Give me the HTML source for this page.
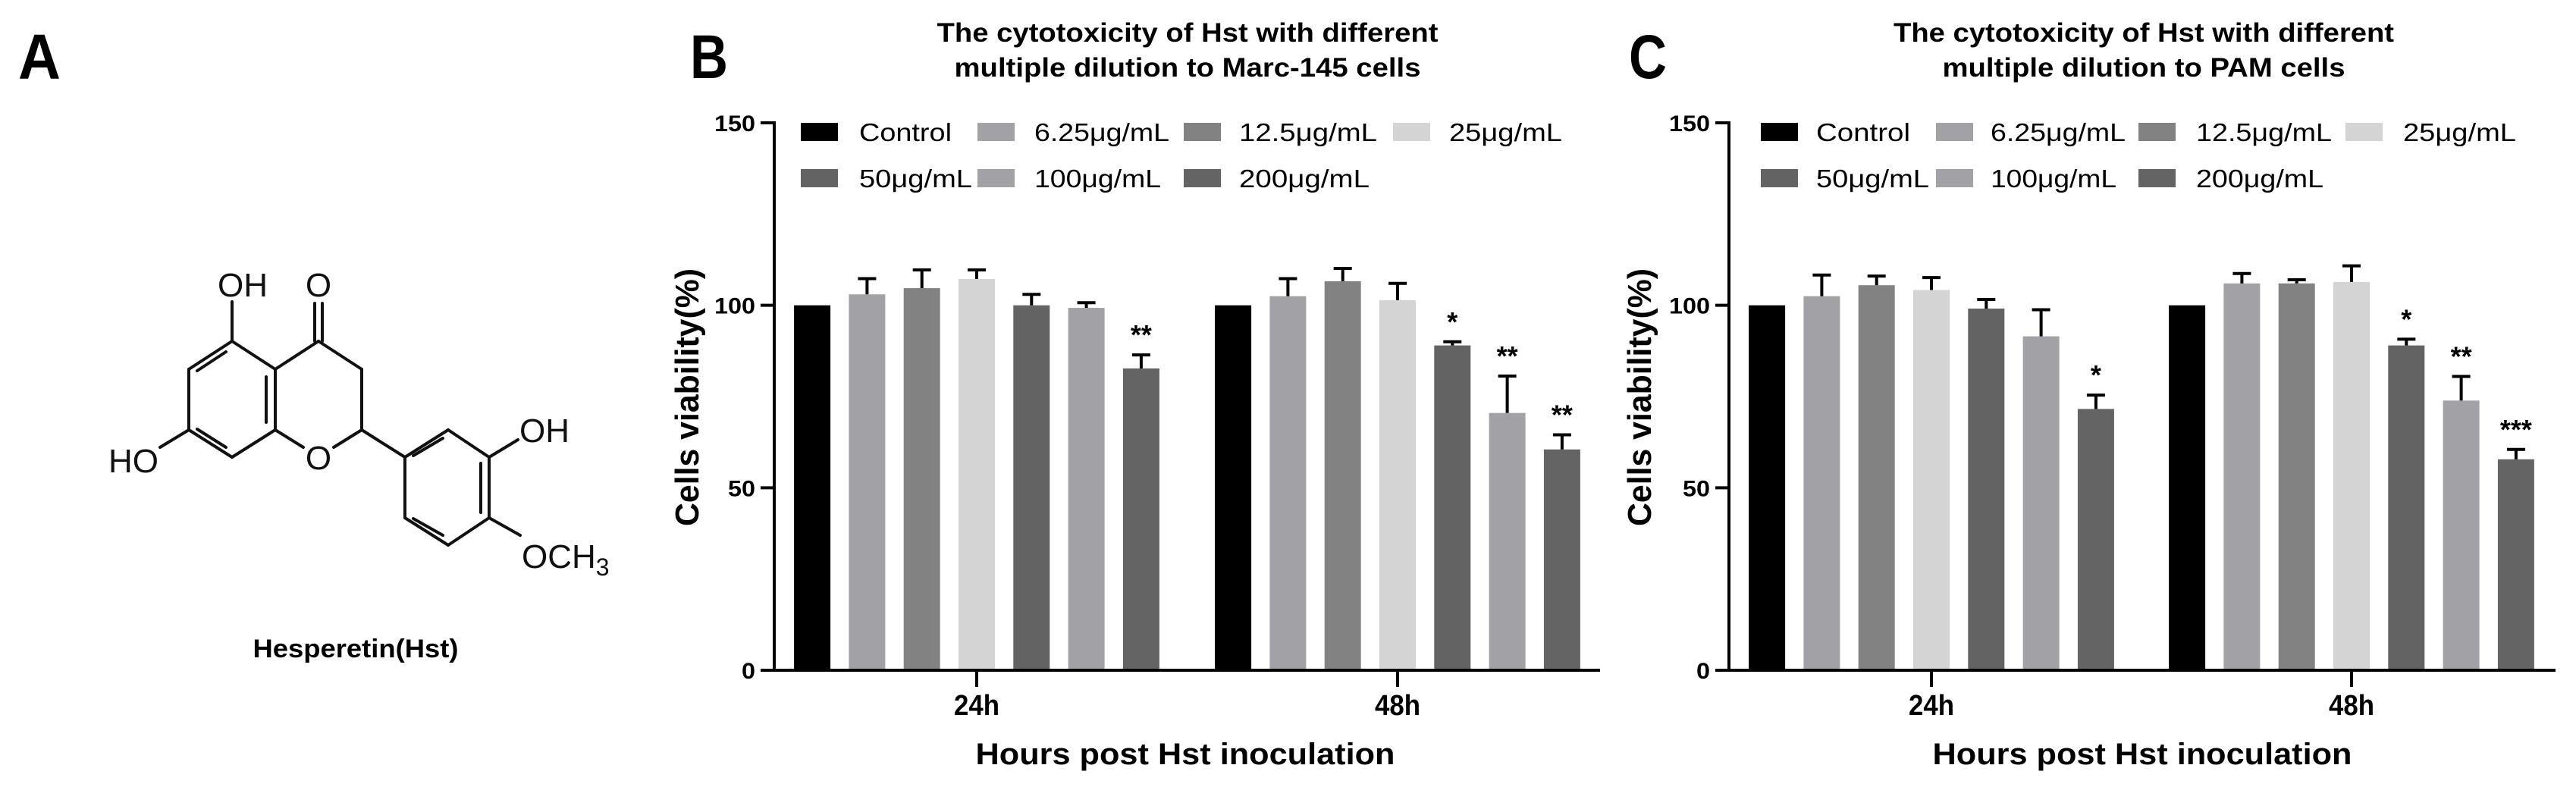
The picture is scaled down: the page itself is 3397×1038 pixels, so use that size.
<!DOCTYPE html>
<html><head><meta charset="utf-8"><style>
html,body{margin:0;padding:0;background:#fff}
svg{display:block}
text{font-family:"Liberation Sans",Arial,sans-serif}
</style></head><body>
<svg id="fig" width="3397" height="1038" viewBox="0 0 3397 1038" xmlns="http://www.w3.org/2000/svg">
<rect width="3397" height="1038" fill="#fff"/>
<!-- Panel A -->
<g id="panelA">
<text x="24" y="104" font-size="84" font-weight="bold" textLength="56" lengthAdjust="spacingAndGlyphs">A</text>
<g stroke="#111" stroke-width="4" fill="none" stroke-linecap="round">
<line x1="306" y1="450" x2="249" y2="487"/>
<line x1="249" y1="487" x2="249" y2="567"/>
<line x1="249" y1="567" x2="306" y2="603"/>
<line x1="306" y1="603" x2="363" y2="567"/>
<line x1="363" y1="567" x2="363" y2="487"/>
<line x1="363" y1="487" x2="306" y2="450"/>
<line x1="298" y1="464" x2="260" y2="489"/>
<line x1="260" y1="566" x2="298" y2="590"/>
<line x1="351" y1="497" x2="351" y2="557"/>
<line x1="306" y1="450" x2="306" y2="398"/>
<line x1="363" y1="487" x2="420" y2="450"/>
<line x1="415" y1="450" x2="415" y2="400"/>
<line x1="425" y1="450" x2="425" y2="400"/>
<line x1="420" y1="450" x2="477" y2="487"/>
<line x1="477" y1="487" x2="477" y2="567"/>
<line x1="477" y1="567" x2="440" y2="590"/>
<line x1="400" y1="590" x2="363" y2="567"/>
<line x1="249" y1="567" x2="211" y2="590"/>
<line x1="477" y1="567" x2="534" y2="603"/>
<line x1="534" y1="603" x2="591" y2="567"/>
<line x1="591" y1="567" x2="645" y2="603"/>
<line x1="645" y1="603" x2="645" y2="683"/>
<line x1="645" y1="683" x2="591" y2="719"/>
<line x1="591" y1="719" x2="534" y2="683"/>
<line x1="534" y1="683" x2="534" y2="603"/>
<line x1="545" y1="601" x2="584" y2="578"/>
<line x1="634" y1="611" x2="634" y2="676"/>
<line x1="584" y1="706" x2="545" y2="684"/>
<line x1="645" y1="603" x2="683" y2="580"/>
<line x1="645" y1="683" x2="686" y2="706"/>
</g>
<g font-size="44" fill="#111">
<text x="320" y="391" text-anchor="middle">OH</text>
<text x="420" y="391" text-anchor="middle">O</text>
<text x="420" y="619" text-anchor="middle">O</text>
<text x="176" y="623" text-anchor="middle">HO</text>
<text x="718" y="583" text-anchor="middle">OH</text>
<text x="688" y="749">OCH<tspan font-size="32" dy="10">3</tspan></text>
</g>
<text x="469" y="867" font-size="34" font-weight="bold" text-anchor="middle" textLength="271" lengthAdjust="spacingAndGlyphs">Hesperetin(Hst)</text>
</g>
<g id="panelB"></g>
<g id="panelC"></g>
</svg>
<script>
const groups = ['24h', '48h'];
const seriesNames = ['Control', '6.25μg/mL', '12.5μg/mL', '25μg/mL', '50μg/mL', '100μg/mL', '200μg/mL'];
const yTicks = [0, 50, 100, 150];
const marcValues24 = [100, 103.0, 104.7, 107.2, 100, 99.3, 82.7];
const marcValues48 = [100, 102.5, 106.6, 101.4, 89.0, 70.5, 60.5];
const marcErr24 = [0, 4.3, 5.0, 2.5, 3.0, 1.4, 3.7];
const marcErr48 = [0, 4.8, 3.5, 4.6, 1.0, 10.1, 4.0];
const marcSig24 = ['', '', '', '', '', '', '**'];
const marcSig48 = ['', '', '', '', '*', '**', '**'];
const pamValues24 = [100, 102.5, 105.5, 104.2, 99.1, 91.5, 71.6];
const pamValues48 = [100, 106.0, 106.0, 106.4, 89.0, 73.9, 57.8];
const pamErr24 = [0, 5.8, 2.5, 3.4, 2.5, 7.3, 3.8];
const pamErr48 = [0, 2.7, 1.0, 4.4, 1.7, 6.6, 2.7];
const pamSig24 = ['', '', '', '', '', '', '*'];
const pamSig48 = ['', '', '', '', '*', '**', '***'];

const colors = ['#000000', '#a2a2a6', '#828282', '#d4d4d4', '#636363', '#a2a2a6', '#646464'];
const NS = 'http://www.w3.org/2000/svg';
function mk(parent, tag, attrs, txt) {
  const e = document.createElementNS(NS, tag);
  for (const k in attrs) e.setAttribute(k, attrs[k]);
  if (txt !== undefined) e.textContent = txt;
  parent.appendChild(e);
  return e;
}

function drawPanel(g, cfg) {
  const y0 = 884, y150 = 162;
  const yScale = v => y0 - (v - 0) * (y0 - y150) / 150;
  const xGroup = gi => cfg.g0 + gi * cfg.gStep;
  const xBar = (gi, si) => xGroup(gi) + (si - 3) * 72.3;
  const bw = 48;

  let t = mk(g, 'text', {x: cfg.letterX, y: 103, 'font-size': 82, 'font-weight': 'bold', textLength: 50, lengthAdjust: 'spacingAndGlyphs'}, cfg.letter);
  
  
  cfg.title.forEach((line, i) => {
    const tt = mk(g, 'text', {x: cfg.titleX, y: 55 + i * 46, 'font-size': 35, 'font-weight': 'bold', 'text-anchor': 'middle', textLength: cfg.titleW[i], lengthAdjust: 'spacingAndGlyphs'}, line);
    
    
  });

  const vals = [cfg.v24, cfg.v48], errs = [cfg.e24, cfg.e48], sigs = [cfg.s24, cfg.s48];
  for (let gi = 0; gi < groups.length; gi++) {
    for (let si = 0; si < seriesNames.length; si++) {
      const v = vals[gi][si], cx = xBar(gi, si);
      const r = mk(g, 'rect', {x: cx - bw / 2, y: yScale(v), width: bw, height: y0 - yScale(v), fill: colors[si]});
      
      
      const e = errs[gi][si];
      if (e > 0) {
        const ey = yScale(v + e);
        const eg = mk(g, 'g', {stroke: '#000', 'stroke-width': 4});
        
        
        mk(eg, 'line', {x1: cx, x2: cx, y1: yScale(v), y2: ey});
        mk(eg, 'line', {x1: cx - 12, x2: cx + 12, y1: ey, y2: ey});
      }
      if (sigs[gi][si]) {
        const st = mk(g, 'text', {x: cx, y: yScale(v + e) - 14, 'font-size': 36, 'font-weight': 'bold', 'text-anchor': 'middle'}, sigs[gi][si]);
        
        
      }
    }
  }
  const ax = mk(g, 'g', {stroke: '#000', 'stroke-width': 4, fill: 'none'});
  
  
  mk(ax, 'line', {x1: cfg.axisX, x2: cfg.axisX, y1: y150 - 2, y2: y0});
  mk(ax, 'line', {x1: cfg.axisX - 18, x2: cfg.xEnd, y1: y0, y2: y0});
  yTicks.forEach(v => {
    mk(ax, 'line', {x1: cfg.axisX - 18, x2: cfg.axisX, y1: yScale(v), y2: yScale(v)});
    const lt = mk(g, 'text', {x: cfg.axisX - 25, y: yScale(v) + 11, 'font-size': 30, 'font-weight': 'bold', 'text-anchor': 'end', textLength: String(v).length * 18, lengthAdjust: 'spacingAndGlyphs'}, String(v));
    
    
  });
  groups.forEach((gname, gi) => {
    mk(ax, 'line', {x1: xGroup(gi), x2: xGroup(gi), y1: y0, y2: y0 + 22});
    const lt = mk(g, 'text', {x: xGroup(gi), y: 943, 'font-size': 38, 'font-weight': 'bold', 'text-anchor': 'middle', textLength: 60, lengthAdjust: 'spacingAndGlyphs'}, gname);
    
    
  });
  const xt = mk(g, 'text', {x: cfg.xTitleX, y: 1008, 'font-size': 40, 'font-weight': 'bold', 'text-anchor': 'middle', textLength: 553, lengthAdjust: 'spacingAndGlyphs'}, 'Hours post Hst inoculation');
  
  
  const yt = mk(g, 'text', {x: 0, y: 0, 'font-size': 44, 'font-weight': 'bold', 'text-anchor': 'middle', textLength: 340, lengthAdjust: 'spacingAndGlyphs', transform: 'translate(' + (cfg.yTitleX + 15) + ',524) rotate(-90)'}, 'Cells viability(%)');
  
  

  seriesNames.forEach((n, i) => {
    const row = i < 4 ? 0 : 1, col = i < 4 ? i : i - 4;
    const cy = row === 0 ? 174 : 235;
    const lg = mk(g, 'g', {});
    
    
    mk(lg, 'rect', {x: cfg.swX[col], y: cy - 12, width: 49, height: 24, fill: colors[i]});
    mk(lg, 'text', {x: cfg.txX[col], y: cy + 12, 'font-size': 33, textLength: cfg.labW[i], lengthAdjust: 'spacingAndGlyphs'}, n);
  });
}

drawPanel(document.getElementById('panelB'), {
  letter: 'B', letterX: 910, titleX: 1566, titleW: [661, 615],
  title: ['The cytotoxicity of Hst with different', 'multiple dilution to Marc-145 cells'],
  g0: 1288, gStep: 555, axisX: 1021, xEnd: 2110, xTitleX: 1563, yTitleX: 906,
  swX: [1056, 1289, 1561, 1837], txX: [1133, 1364, 1634, 1911],
  labW: [122, 178, 182, 149, 149, 167, 172],
  v24: marcValues24, v48: marcValues48, e24: marcErr24, e48: marcErr48, s24: marcSig24, s48: marcSig48
});
drawPanel(document.getElementById('panelC'), {
  letter: 'C', letterX: 2148, titleX: 2827, titleW: [660, 531],
  title: ['The cytotoxicity of Hst with different', 'multiple dilution to PAM cells'],
  g0: 2547, gStep: 554, axisX: 2280, xEnd: 3370, xTitleX: 2825, yTitleX: 2162,
  swX: [2322, 2553, 2820, 3093], txX: [2395, 2625, 2896, 3169],
  labW: [124, 178, 179, 149, 149, 166, 168],
  v24: pamValues24, v48: pamValues48, e24: pamErr24, e48: pamErr48, s24: pamSig24, s48: pamSig48
});
document.getElementById('panelB');
document.getElementById('panelB');
document.getElementById('panelC');
document.getElementById('panelC');
</script>
</body></html>
